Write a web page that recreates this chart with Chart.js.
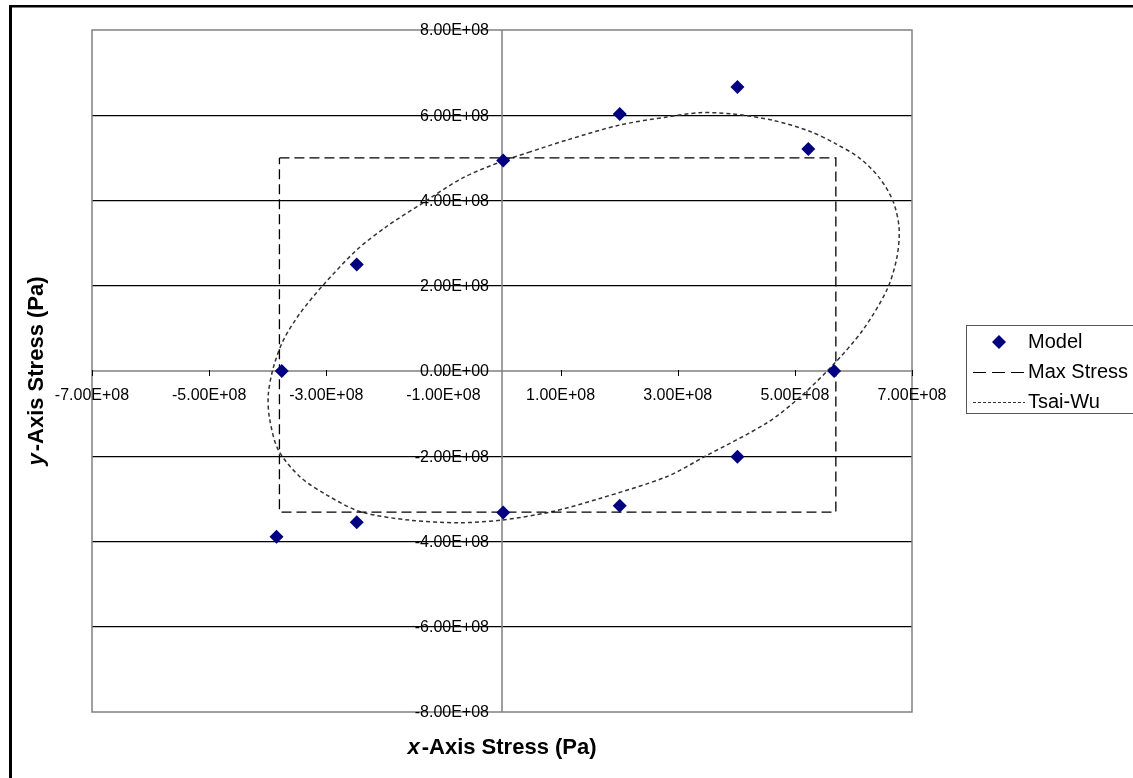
<!DOCTYPE html>
<html>
<head>
<meta charset="utf-8">
<script src="https://cdn.jsdelivr.net/npm/chart.js@4/dist/chart.umd.min.js"></script>
<style>
  html, body { margin: 0; padding: 0; background: #fff; }
</style>
</head>
<body>
<canvas id="chart" width="1133" height="778"></canvas>
<script>
// Model results (Pa)
const modelX = [-3.85e8, -3.76e8, -2.48e8, -2.48e8, 0.02e8, 0.02e8, 2.01e8, 2.01e8, 4.02e8, 4.02e8, 5.23e8, 5.67e8]
const modelY = [-3.89e8, 0, 2.5e8, -3.55e8, 4.94e8, -3.32e8, 6.03e8, -3.16e8, 6.66e8, -2.01e8, 5.21e8, 0]

// Max stress failure envelope (closed rectangle)
const maxStressX = [-3.8e8, 5.7e8, 5.7e8, -3.8e8, -3.8e8]
const maxStressY = [5.0e8, 5.0e8, -3.31e8, -3.31e8, 5.0e8]

// Tsai-Wu failure envelope
const tsaiX = [0.48e8, 0.02e8, -0.67e8, -1.4e8, -1.97e8, -2.48e8, -3.05e8, -3.45e8, -3.73e8, -3.9e8,
  -3.99e8, -3.97e8, -3.82e8, -3.45e8, -2.99e8, -2.42e8, -1.57e8, -0.72e8, -0.03e8, 0.82e8,
  1.67e8, 2.81e8, 3.47e8, 4.52e8, 5.09e8, 5.65e8, 6.16e8, 6.57e8, 6.74e8, 6.78e8,
  6.68e8, 6.45e8, 6.11e8, 5.7e8, 5.26e8, 4.63e8, 3.94e8, 3.38e8, 2.82e8, 2.01e8,
  1.11e8, 0.48e8]
const tsaiY = [5.14e8, 4.93e8, 4.53e8, 3.9e8, 3.39e8, 2.84e8, 2.02e8, 1.35e8, 0.73e8, 0.1e8,
  -0.55e8, -1.1e8, -1.85e8, -2.48e8, -2.91e8, -3.3e8, -3.5e8, -3.56e8, -3.5e8, -3.31e8,
  -2.99e8, -2.48e8, -2.0e8, -1.22e8, -0.61e8, 0.14e8, 0.96e8, 1.9e8, 2.65e8, 3.35e8,
  3.97e8, 4.52e8, 4.99e8, 5.33e8, 5.62e8, 5.88e8, 6.03e8, 6.06e8, 5.96e8, 5.77e8,
  5.42e8, 5.14e8]

// Axis ticks
const xTickValues = [-7e8, -5e8, -3e8, -1e8, 1e8, 3e8, 5e8, 7e8]
const xTickLabels = ["-7.00E+08", "-5.00E+08", "-3.00E+08", "-1.00E+08", "1.00E+08", "3.00E+08", "5.00E+08", "7.00E+08"]
const yTickValues = [8e8, 6e8, 4e8, 2e8, 0, -2e8, -4e8, -6e8, -8e8]
const yTickLabels = ["8.00E+08", "6.00E+08", "4.00E+08", "2.00E+08", "0.00E+00", "-2.00E+08", "-4.00E+08", "-6.00E+08", "-8.00E+08"]

const seriesNames = ["Model", "Max Stress", "Tsai-Wu"]

const zip = (xs, ys) => xs.map((v, i) => ({ x: v, y: ys[i] }))

const FONT = "'Liberation Sans', Arial, sans-serif"

// axis title with an italic first letter, centred on (cx, cy)
function drawAxisTitle(ctx, letter, rest, cx, cy, rotate) {
  ctx.save()
  ctx.translate(cx, cy)
  if (rotate) ctx.rotate(-Math.PI / 2)
  ctx.fillStyle = "#000"
  ctx.textBaseline = "middle"
  ctx.textAlign = "left"
  ctx.font = "italic bold 22px " + FONT
  const w1 = ctx.measureText(letter).width + 2
  ctx.font = "bold 22px " + FONT
  const w2 = ctx.measureText(rest).width
  const start = -(w1 + w2) / 2
  ctx.font = "italic bold 22px " + FONT
  ctx.fillText(letter, start, 0)
  ctx.font = "bold 22px " + FONT
  ctx.fillText(rest, start + w1, 0)
  ctx.restore()
}

const excelLook = {
  id: "excelLook",
  beforeDatasetsDraw(chart) {
    const { ctx, chartArea: a, scales: { x, y } } = chart
    const x0 = x.getPixelForValue(0)
    const y0 = y.getPixelForValue(0)
    ctx.save()

    // plot area frame
    ctx.strokeStyle = "#808080"
    ctx.lineWidth = 1.5
    ctx.strokeRect(a.left, a.top, a.right - a.left, a.bottom - a.top)

    // axes crossing at zero
    ctx.beginPath()
    ctx.moveTo(x0, a.top); ctx.lineTo(x0, a.bottom)
    ctx.moveTo(a.left, y0); ctx.lineTo(a.right, y0)
    ctx.stroke()

    // tick marks on the x axis
    ctx.lineWidth = 1
    ctx.strokeStyle = "#000"
    ctx.beginPath()
    xTickValues.forEach(v => {
      const px = Math.round(x.getPixelForValue(v)) + 0.5
      ctx.moveTo(px, y0 - 1); ctx.lineTo(px, y0 + 5)
    })
    ctx.stroke()

    // tick labels
    ctx.fillStyle = "#000"
    ctx.font = "16px " + FONT
    ctx.textAlign = "right"
    ctx.textBaseline = "middle"
    yTickValues.forEach((v, i) => ctx.fillText(yTickLabels[i], x0 - 13, y.getPixelForValue(v) + 1))
    ctx.textAlign = "center"
    xTickValues.forEach((v, i) => ctx.fillText(xTickLabels[i], x.getPixelForValue(v), y0 + 25))
    ctx.restore()
  },
  afterDraw(chart) {
    const { ctx } = chart
    ctx.save()

    // axis titles
    drawAxisTitle(ctx, "x", "-Axis Stress (Pa)", 502, 748, false)
    drawAxisTitle(ctx, "y", "-Axis Stress (Pa)", 37, 371, true)

    // legend box
    const lx = 966, ly = 325
    ctx.strokeStyle = "#555"
    ctx.lineWidth = 1
    ctx.strokeRect(lx + 0.5, ly + 0.5, 200, 88)
    ctx.font = "20px " + FONT
    ctx.fillStyle = "#000"
    ctx.textAlign = "left"
    ctx.textBaseline = "middle"
    const rows = [ly + 17, ly + 47, ly + 77]
    seriesNames.forEach((name, i) => ctx.fillText(name, 1028, rows[i]))

    // legend keys
    ctx.fillStyle = "#000080"
    ctx.beginPath()
    ctx.moveTo(999 - 7, rows[0]); ctx.lineTo(999, rows[0] - 7)
    ctx.lineTo(999 + 7, rows[0]); ctx.lineTo(999, rows[0] + 7)
    ctx.closePath(); ctx.fill()

    ctx.strokeStyle = "#000"
    ctx.lineWidth = 1.2
    ctx.setLineDash([13, 6])
    ctx.beginPath(); ctx.moveTo(973, rows[1] + 0.5); ctx.lineTo(1025, rows[1] + 0.5); ctx.stroke()
    ctx.strokeStyle = "#333"
    ctx.setLineDash([3, 2])
    ctx.beginPath(); ctx.moveTo(973, rows[2] + 0.5); ctx.lineTo(1025, rows[2] + 0.5); ctx.stroke()
    ctx.setLineDash([])

    // outer chart frame (left and top edges visible)
    ctx.fillStyle = "#000"
    ctx.fillRect(9, 5, 3, 778)
    ctx.fillRect(9, 5, 1133, 2.5)
    ctx.restore()
  }
}

new Chart(document.getElementById("chart"), {
  type: "scatter",
  data: {
    datasets: [
      {
        label: seriesNames[0],
        data: zip(modelX, modelY),
        pointStyle: "rectRot",
        pointRadius: 7,
        pointBorderWidth: 0,
        backgroundColor: "#000080",
        borderColor: "#000080",
        showLine: false
      },
      {
        label: seriesNames[1],
        data: zip(maxStressX, maxStressY),
        showLine: true,
        borderColor: "#000",
        borderWidth: 1.3,
        borderDash: [10, 5],
        pointRadius: 0,
        fill: false
      },
      {
        label: seriesNames[2],
        data: zip(tsaiX, tsaiY),
        showLine: true,
        borderColor: "#333",
        borderWidth: 1.5,
        borderDash: [4, 3],
        pointRadius: 0,
        tension: 0.3,
        fill: false
      }
    ]
  },
  options: {
    responsive: false,
    animation: false,
    layout: { padding: { left: 92, top: 30, right: 221, bottom: 66 } },
    plugins: {
      legend: { display: false },
      tooltip: { enabled: false }
    },
    scales: {
      x: {
        type: "linear",
        min: -7e8,
        max: 7e8,
        ticks: { display: false, stepSize: 2e8 },
        grid: { display: false, drawTicks: false },
        border: { display: false }
      },
      y: {
        type: "linear",
        min: -8e8,
        max: 8e8,
        ticks: { display: false, stepSize: 2e8 },
        grid: {
          drawTicks: false,
          lineWidth: 1.2,
          color: ctx => (ctx.tick && (ctx.tick.value === 0 || Math.abs(ctx.tick.value) === 8e8)) ? "rgba(0,0,0,0)" : "#000"
        },
        border: { display: false }
      }
    }
  },
  plugins: [excelLook]
})
</script>
</body>
</html>
